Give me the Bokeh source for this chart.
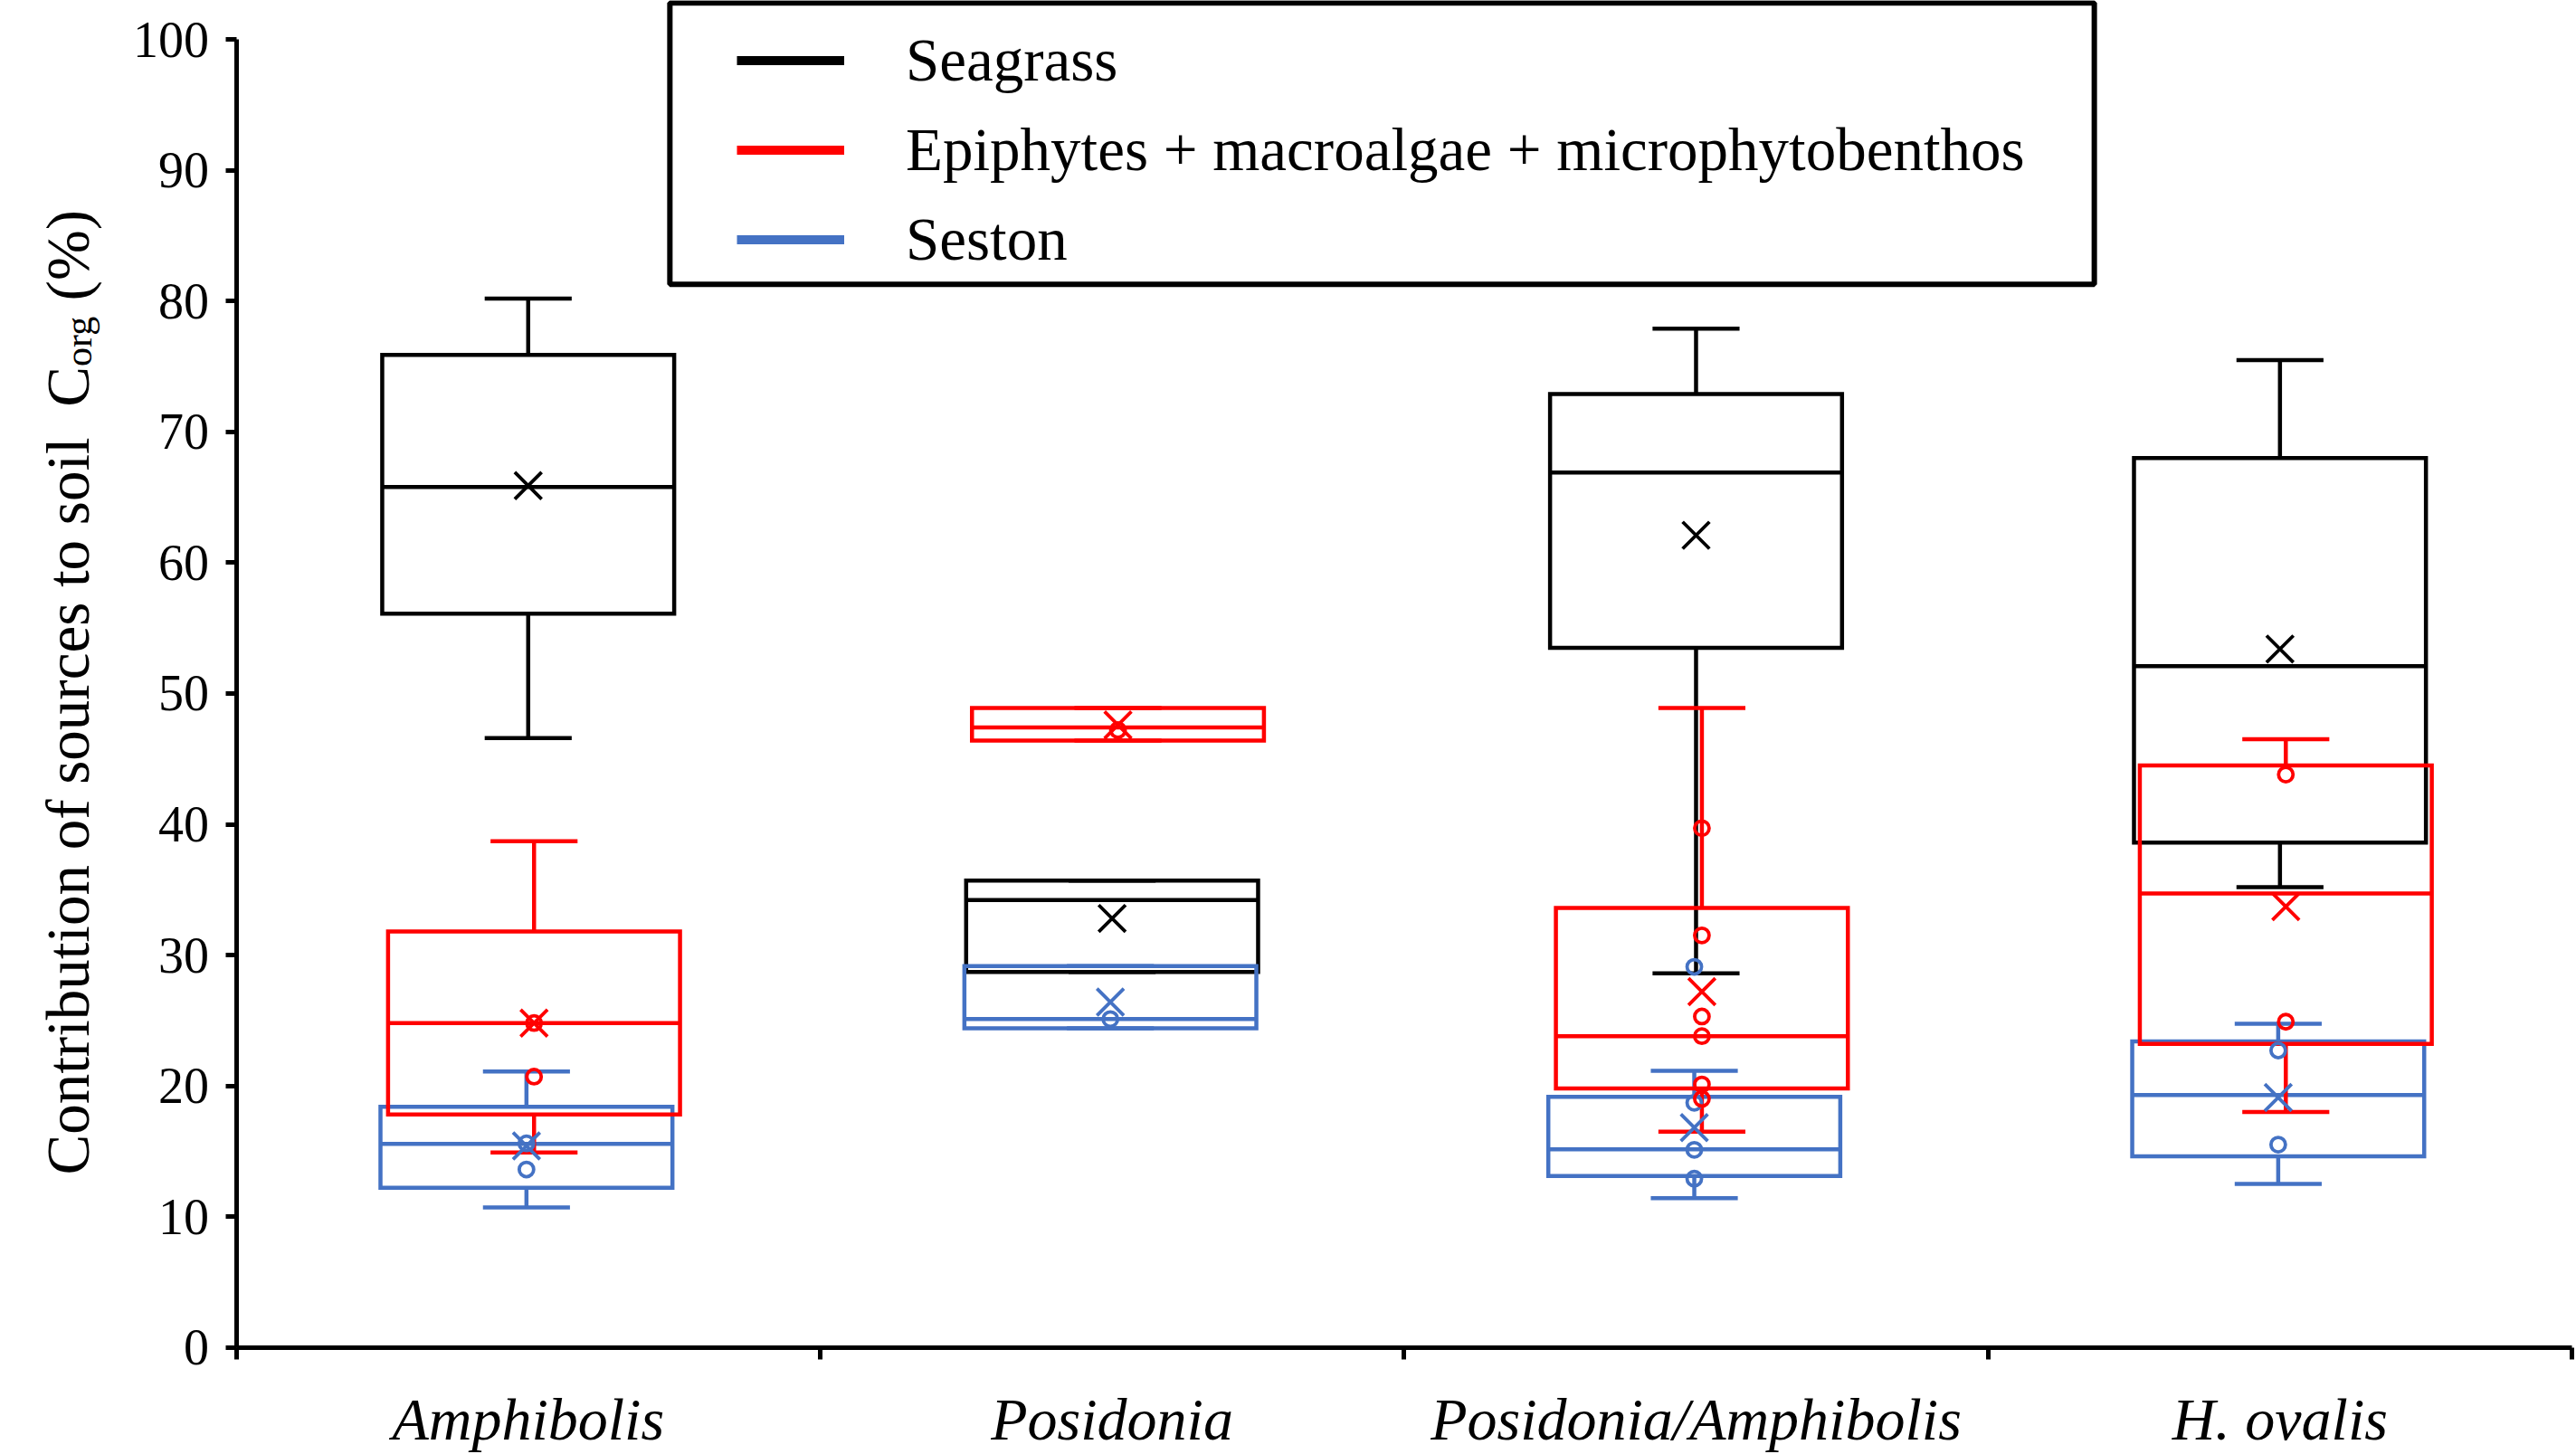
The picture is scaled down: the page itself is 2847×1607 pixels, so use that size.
from math import pi
from bokeh.plotting import figure
from bokeh.models import Range1d, FixedTicker, Legend, LegendItem, Label, ColumnDataSource
from bokeh.embed import file_html
from bokeh.resources import INLINE

# ---------------- data ----------------
categories = ["Amphibolis", "Posidonia", "Posidonia/Amphibolis", "H. ovalis"]
series_names = ["Seagrass", "Epiphytes + macroalgae + microphytobenthos", "Seston"]
y_ticks = [0, 10, 20, 30, 40, 50, 60, 70, 80, 90, 100]

seagrass_low = [46.6, 28.7, 28.6, 35.2]
seagrass_q1 = [56.1, 28.7, 53.5, 38.6]
seagrass_med = [65.8, 34.2, 66.9, 52.1]
seagrass_q3 = [75.9, 35.7, 72.9, 68.0]
seagrass_high = [80.2, 35.7, 77.9, 75.5]
seagrass_mean = [65.9, 32.8, 62.1, 53.4]
seagrass_points = [[], [], [], []]

epi_low = [14.9, 46.4, 16.5, 18.0]
epi_q1 = [17.8, 46.4, 19.8, 23.2]
epi_med = [24.8, 47.4, 23.8, 34.7]
epi_q3 = [31.8, 48.9, 33.6, 44.5]
epi_high = [38.7, 48.9, 48.9, 46.5]
epi_mean = [24.8, 47.6, 27.2, 33.7]
epi_points = [[24.8, 20.7], [47.2], [39.7, 31.5, 25.3, 23.8, 20.1, 19.0], [43.8, 24.9]]

seston_low = [10.7, 24.4, 11.4, 12.5]
seston_q1 = [12.2, 24.4, 13.1, 14.6]
seston_med = [15.55, 25.1, 15.15, 19.3]
seston_q3 = [18.4, 29.15, 19.15, 23.4]
seston_high = [21.1, 29.15, 21.15, 24.75]
seston_mean = [15.4, 26.4, 16.8, 19.1]
seston_points = [[15.6, 13.6], [25.1], [29.1, 18.7, 15.1, 12.9], [22.7, 15.5]]

# ---------------- styles ----------------
BLACK = "#000000"
RED = "#FF0000"
BLUE = "#4472C4"
FONT = "Liberation Serif"
LW = 4.5
BOX_HW = 0.25
CAP_HW = 0.0745
W, H = 2847, 1607
NBSP = "\u00a0"

# the frame covers the whole canvas; axes are pinned at 0 with fixed_location
p = figure(width=W, height=H, output_backend="svg", toolbar_location=None,
           x_range=Range1d(-0.40381, 4.00775), y_range=Range1d(-8.1927, 103.003),
           min_border_left=0, min_border_right=0, min_border_top=0, min_border_bottom=0)
p.outline_line_color = None
p.xgrid.visible = False
p.ygrid.visible = False
p.background_fill_color = "white"
p.border_fill_color = "white"

# axes
p.yaxis.fixed_location = 0
p.yaxis.bounds = (0, 100)
p.yaxis.ticker = FixedTicker(ticks=y_ticks)
p.yaxis.axis_line_width = 5
p.yaxis.major_tick_line_width = 5
p.yaxis.major_tick_out = 12
p.yaxis.major_tick_in = 0
p.yaxis.minor_tick_line_color = None
p.yaxis.major_label_text_font = FONT
p.yaxis.major_label_text_font_size = "56px"
p.yaxis.major_label_text_color = "black"
p.yaxis.major_label_standoff = 18

centers = [i + 0.5 for i in range(len(categories))]
bounds = [i for i in range(len(categories) + 1)]
p.xaxis.fixed_location = 0
p.xaxis.bounds = (0, len(categories))
p.xaxis.ticker = FixedTicker(ticks=centers, minor_ticks=bounds)
p.xaxis.major_label_overrides = {c: name for c, name in zip(centers, categories)}
p.xaxis.axis_line_width = 5
p.xaxis.major_tick_line_color = None
p.xaxis.major_tick_out = 0
p.xaxis.major_tick_in = 0
p.xaxis.minor_tick_line_color = "black"
p.xaxis.minor_tick_line_width = 5
p.xaxis.minor_tick_out = 13
p.xaxis.minor_tick_in = 0
p.xaxis.major_label_text_font = FONT
p.xaxis.major_label_text_font_style = "italic"
p.xaxis.major_label_text_font_size = "66px"
p.xaxis.major_label_text_color = "black"
p.xaxis.major_label_standoff = 30


def draw_box(low, q1, med, q3, high, color, off):
    xc = [c + off for c in centers]
    src = ColumnDataSource(dict(
        x=xc, left=[x - BOX_HW for x in xc], right=[x + BOX_HW for x in xc],
        cl=[x - CAP_HW for x in xc], cr=[x + CAP_HW for x in xc],
        low=low, q1=q1, med=med, q3=q3, high=high))
    kw = dict(source=src, line_color=color, line_width=LW)
    p.segment(x0="x", y0="low", x1="x", y1="q1", **kw)
    p.segment(x0="x", y0="q3", x1="x", y1="high", **kw)
    p.segment(x0="cl", y0="low", x1="cr", y1="low", **kw)
    p.segment(x0="cl", y0="high", x1="cr", y1="high", **kw)
    p.quad(left="left", right="right", bottom="q1", top="q3", fill_color=None,
           line_join="miter", **kw)
    p.segment(x0="left", y0="med", x1="right", y1="med", **kw)


def draw_marks(mean, pts, color, off):
    xc = [c + off for c in centers]
    p.scatter(x=xc, y=mean, marker="x", size=42, line_color=color, line_width=3.8)
    px, py = [], []
    for x, vals in zip(xc, pts):
        for v in vals:
            px.append(x)
            py.append(v)
    if px:
        p.scatter(x=px, y=py, marker="circle", size=16, fill_color=None,
                  line_color=color, line_width=3.8)


draw_box(seagrass_low, seagrass_q1, seagrass_med, seagrass_q3, seagrass_high, BLACK, 0.0)
draw_box(seston_low, seston_q1, seston_med, seston_q3, seston_high, BLUE, -0.003)
draw_box(epi_low, epi_q1, epi_med, epi_q3, epi_high, RED, 0.01)
draw_marks(seagrass_mean, seagrass_points, BLACK, 0.0)
draw_marks(seston_mean, seston_points, BLUE, -0.003)
draw_marks(epi_mean, epi_points, RED, 0.01)

# legend: line glyphs only (renderers hold no visible data)
nan = float("nan")
leg_r = []
for col in (BLACK, RED, BLUE):
    leg_r.append(p.line(x=[nan, nan], y=[nan, nan], line_color=col, line_width=10))

box = Label(x=1.96234, y=92.05, text=" ", text_font_size="1px",
            text_align="center", text_baseline="middle",
            padding=dict(left=787, right=787, top=155, bottom=155),
            border_line_color="black", border_line_width=6,
            background_fill_color=None)
p.add_layout(box)

legend = Legend(items=[LegendItem(label=n, renderers=[r]) for n, r in zip(series_names, leg_r)],
                location=(814, 1293), orientation="vertical", padding=0, margin=0, spacing=0,
                glyph_width=119, glyph_height=99, label_height=99, label_standoff=68,
                label_text_font=FONT, label_text_font_size="67px", label_text_color="black",
                border_line_color=None, background_fill_alpha=0)
p.add_layout(legend, "center")

# y-axis title with subscript
ylab_kw = dict(angle=pi / 2, text_font=FONT, text_color="black",
               text_align="left", text_baseline="alphabetic")
p.add_layout(Label(x=-0.2885, y=13.19, text="Contribution of sources to soil" + NBSP + NBSP + "C",
                   text_font_size="67px", **ylab_kw))
p.add_layout(Label(x=-0.2700, y=75.01, text="org", text_font_size="42px", **ylab_kw))
p.add_layout(Label(x=-0.2885, y=78.88, text=NBSP + "(%)", text_font_size="67px", **ylab_kw))

open("out.html", "w").write(file_html(p, INLINE))
